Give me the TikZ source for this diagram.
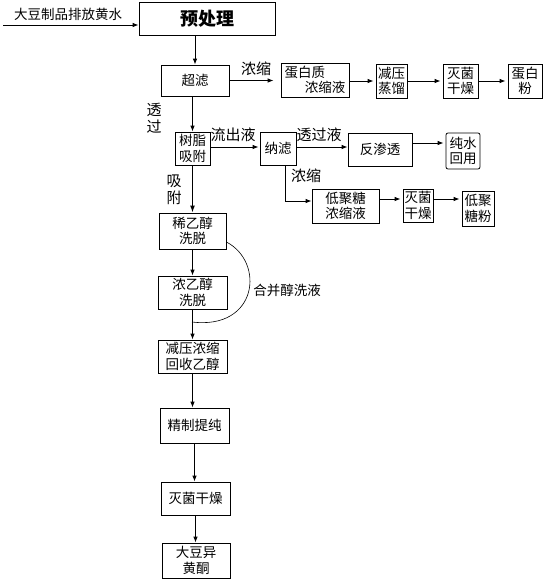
\documentclass[tikz,border=0pt]{standalone}
\usepackage{fontspec}
\setmainfont{Noto Sans CJK SC}
\usetikzlibrary{arrows.meta}
\tikzset{
  box/.style={draw, line width=0.8pt, inner sep=0pt, align=center, font=\fontsize{13.5}{15.5}\selectfont},
  arr/.style={-{Latex[length=6pt,width=4.5pt]}, line width=0.8pt},
  thickarr/.style={-{Latex[length=7pt,width=5pt]}, line width=1.6pt},
  lbl/.style={font=\fontsize{15}{17}\selectfont, inner sep=0pt, align=center},
  smalllbl/.style={font=\fontsize{13.5}{15}\selectfont, inner sep=0pt, align=center}
}
\begin{document}
\begin{tikzpicture}[x=1pt,y=-1pt]
\useasboundingbox[fill=white] (0,0) rectangle (552,584);
% main column
\node[box, minimum width=136pt, minimum height=33pt, font=\fontsize{18}{20}\selectfont\bfseries] (pre) at (207,18.5) {预处理};
\node[box, minimum width=68pt, minimum height=31pt] (uf) at (195,80.5) {超滤};
\node[box, minimum width=35pt, minimum height=33pt] (resin) at (192.5,148.5) {树脂\\吸附};
\node[box, minimum width=67pt, minimum height=36pt] (xe) at (192.5,231) {稀乙醇\\洗脱};
\node[box, minimum width=69pt, minimum height=33pt] (ne) at (192.5,292.5) {浓乙醇\\洗脱};
\node[box, minimum width=69pt, minimum height=33pt] (jn) at (192.5,356.5) {减压浓缩\\回收乙醇};
\node[box, minimum width=69pt, minimum height=35pt] (jz) at (194.5,425.5) {精制提纯};
\node[box, minimum width=69pt, minimum height=33pt] (mj3) at (195.5,498.5) {灭菌干燥};
\node[box, minimum width=68pt, minimum height=35pt] (iso) at (196,560.5) {大豆异\\黄酮};
% protein row
\node[box, minimum width=68pt, minimum height=34pt, align=left] (prot) at (315,80) {蛋白质\\\hspace{1.5em}浓缩液};
\node[box, minimum width=31pt, minimum height=34pt] (jy) at (391.5,81) {减压\\蒸馏};
\node[box, minimum width=35pt, minimum height=34pt] (mj1) at (460.5,81) {灭菌\\干燥};
\node[box, minimum width=34pt, minimum height=34pt] (dbf) at (525,81) {蛋白\\粉};
% resin row
\node[box, minimum width=36pt, minimum height=33pt] (nf) at (278,148.5) {纳滤};
\node[box, minimum width=64pt, minimum height=33pt] (ro) at (380,149.5) {反渗透};
\node[box, minimum width=34pt, minimum height=36pt, rounded corners=2pt] (pw) at (463,151) {纯水\\回用};
% oligosaccharide row
\node[box, minimum width=67pt, minimum height=34pt] (oligo) at (345.5,206) {低聚糖\\浓缩液};
\node[box, minimum width=30pt, minimum height=33pt] (mj2) at (418,205.5) {灭菌\\干燥};
\node[box, minimum width=32pt, minimum height=35pt] (og) at (478,208.5) {低聚\\糖粉};
% labels
\node[smalllbl] (inlbl) at (68,14) {大豆制品排放黄水};
\node[lbl] (l1) at (256,69) {浓缩};
\node[lbl] (l2) at (154,118.5) {透\\过};
\node[lbl] (l3) at (233,135) {流出液};
\node[lbl] (l4) at (319,135) {透过液};
\node[lbl] (l5) at (306,176) {浓缩};
\node[lbl] (l6) at (174,190) {吸\\附};
\node[smalllbl] (l7) at (287,290) {合并醇洗液};
% connectors
\coordinate (in) at (3,25);
\draw[arr] (in) -- (in -| pre.west);
\draw[arr] (uf.north |- pre.south) -- (uf.north);
\draw[arr, shorten >=7pt] (uf.east) -- (uf.east -| prot.west);
\draw[arr, shorten >=2pt] (prot.east |- jy.west) -- (jy.west);
\draw[arr, shorten >=2pt] (jy.east) -- (mj1.west);
\draw[arr, shorten >=2pt] (mj1.east) -- (dbf.west);
\draw[arr] (resin.north |- uf.south) -- (resin.north);
\draw[arr, shorten >=1pt] (resin.east |- 0,147) -- (nf.west |- 0,147);
\draw[arr] (nf.east |- 0,147) -- (ro.west |- 0,147);
\draw[arr, shorten >=2pt] (ro.east |- 0,143) -- (pw.west |- 0,143);
\coordinate (nfb) at (285,201);
\draw[arr] (nfb |- nf.south) -- (nfb) -- (nfb -| oligo.west);
\draw[arr, shorten >=2pt] (oligo.east |- 0,199) -- (mj2.west |- 0,199);
\draw[arr, shorten >=2pt] (mj2.east |- 0,199) -- (og.west |- 0,199);
\draw[thickarr] (resin.south) -- (resin.south |- xe.north);
\draw[arr] (xe.south) -- (xe.south |- ne.north);
\draw[arr] (ne.south) -- (ne.south |- jn.north);
\draw[arr] (jn.south) -- (jn.south |- jz.north);
\draw[arr] (jz.south) -- (jz.south |- mj3.north);
\draw[arr] (mj3.south) -- (mj3.south |- iso.north);
\coordinate (cend) at (192,322);
\draw[line width=0.6pt] (xe.east |- 0,242) .. controls (265,262) and (258,330) .. (cend);
\end{tikzpicture}
\end{document}
